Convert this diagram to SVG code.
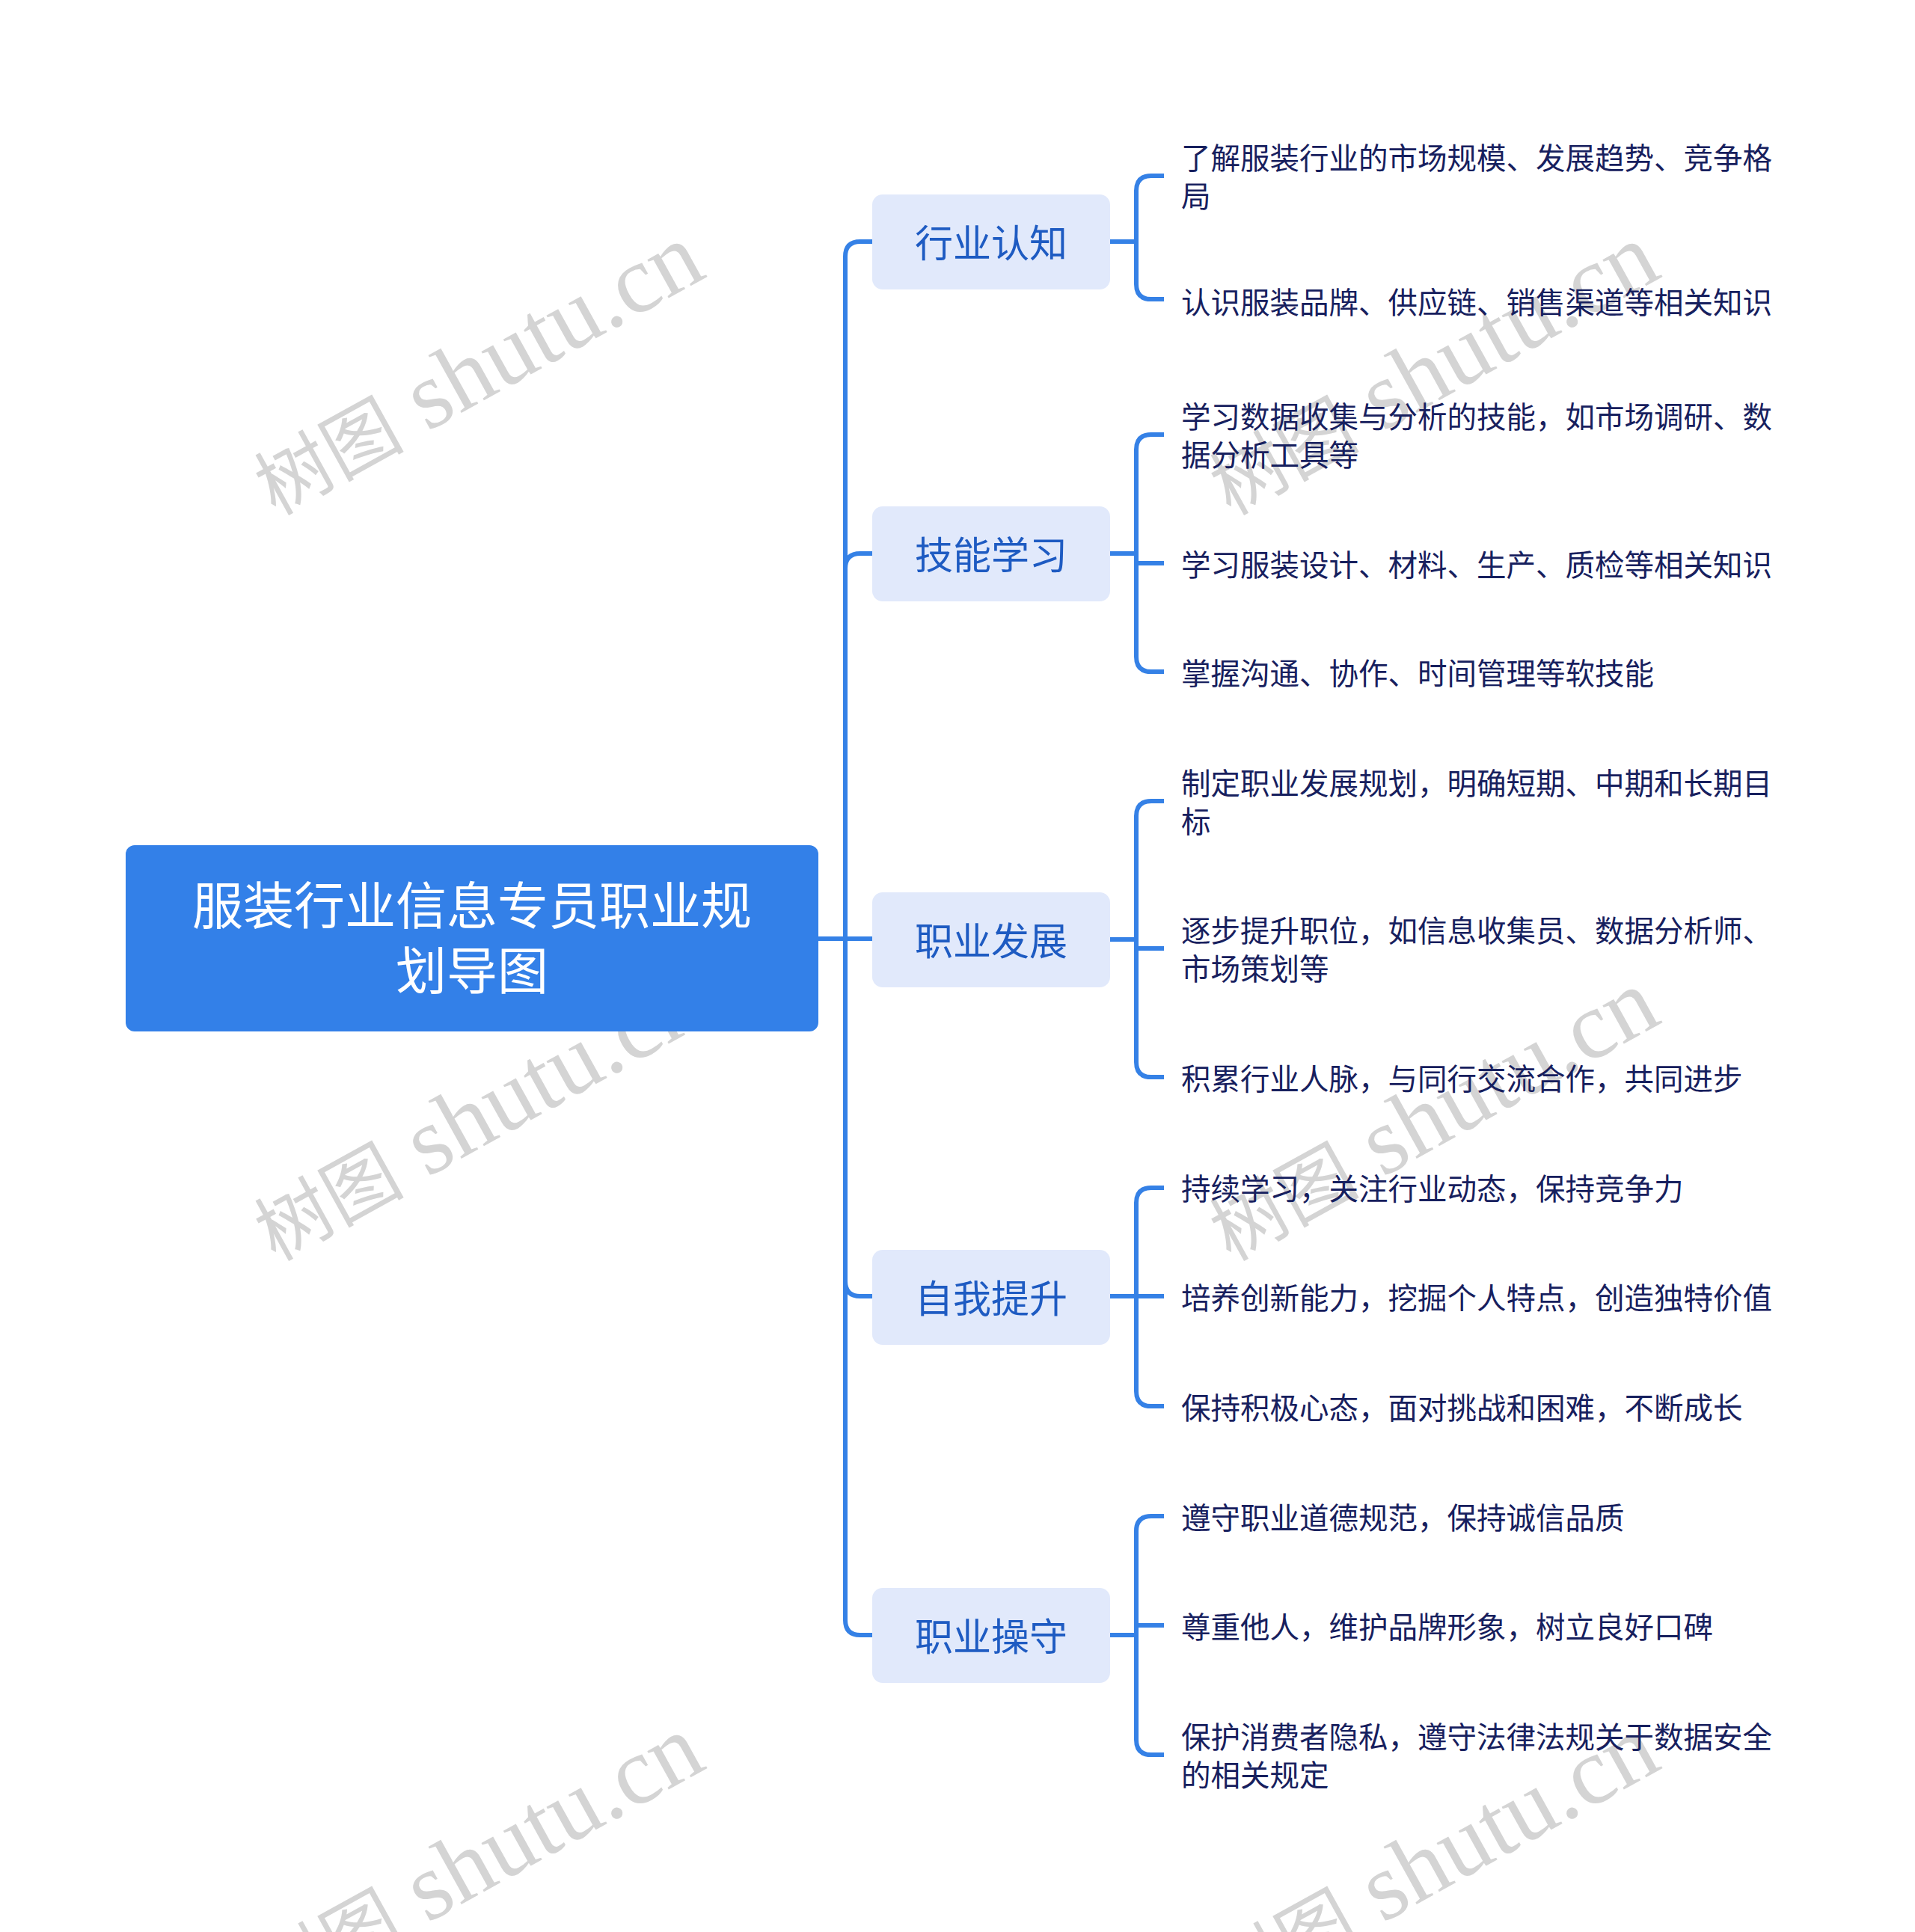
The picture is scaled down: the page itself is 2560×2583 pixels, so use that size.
<svg xmlns="http://www.w3.org/2000/svg" width="2560" height="2583" viewBox="0 0 2560 2583">
<style>
.wm { font-family: "Liberation Serif", "Noto Sans CJK SC", serif; fill: #D4D4D4; }
.conn path { fill: none; stroke: #3581E6; stroke-width: 6; }
.root rect { fill: #3380E8; }
.root text { font-family: "Noto Sans CJK SC", "Noto Sans", sans-serif; font-size: 68px; fill: #FFFFFF; text-anchor: middle; dominant-baseline: central; }
.l1 rect { fill: #E1E9FB; }
.l1 text { font-family: "Noto Sans CJK SC", "Noto Sans", sans-serif; font-size: 51px; fill: #1E5BC2; text-anchor: middle; dominant-baseline: central; }
.leaf text { font-family: "Noto Sans CJK SC", "Noto Sans", sans-serif; font-size: 39.5px; fill: #17205E; dominant-baseline: central; }
</style>
<defs>
<g id="wm">
<text class="wm" transform="rotate(-29)"><tspan font-size="100">树图</tspan><tspan font-size="128"> shutu.cn</tspan></text>
</g>
</defs>
<rect x="0" y="0" width="2560" height="2583" fill="#FFFFFF"/>
<g id="watermarks">
<use href="#wm" x="368" y="690"/>
<use href="#wm" x="368" y="1687"/>
<use href="#wm" x="368" y="2684"/>
<use href="#wm" x="1645" y="690"/>
<use href="#wm" x="1645" y="1687"/>
<use href="#wm" x="1645" y="2684"/>
</g>
<g id="connectors" class="conn">
<path d="M1094,1255 H1130 V343 Q1130,323 1150,323 H1166"/>
<path d="M1130,1255 V760 Q1130,740 1150,740 H1166"/>
<path d="M1094,1255 H1166"/>
<path d="M1130,1255 V1713 Q1130,1733 1150,1733 H1166"/>
<path d="M1130,1255 V2166 Q1130,2186 1150,2186 H1166"/>
<path d="M1484,323 H1519 V255 Q1519,235 1539,235 H1556"/>
<path d="M1519,323 V380 Q1519,400 1539,400 H1556"/>
<path d="M1484,740 H1519 V601 Q1519,581 1539,581 H1556"/>
<path d="M1519,740 V753 H1556"/>
<path d="M1519,740 V878 Q1519,898 1539,898 H1556"/>
<path d="M1484,1256 H1519 V1091 Q1519,1071 1539,1071 H1556"/>
<path d="M1519,1256 V1268 H1556"/>
<path d="M1519,1256 V1420 Q1519,1440 1539,1440 H1556"/>
<path d="M1484,1733 H1556"/>
<path d="M1519,1733 V1608 Q1519,1588 1539,1588 H1556"/>
<path d="M1519,1733 V1860 Q1519,1880 1539,1880 H1556"/>
<path d="M1484,2186 H1519 V2047 Q1519,2027 1539,2027 H1556"/>
<path d="M1519,2186 V2173 H1556"/>
<path d="M1519,2186 V2326 Q1519,2346 1539,2346 H1556"/>
</g>
<g id="root" class="root">
<rect x="168" y="1130" width="926" height="249" rx="12"/>
<text><tspan x="631" y="1206">服装行业信息专员职业规</tspan><tspan x="631" y="1293">划导图</tspan></text>
</g>
<g id="n1" class="l1"><rect x="1166" y="260" width="318" height="127" rx="14"/><text x="1325" y="322">行业认知</text></g>
<g id="n2" class="l1"><rect x="1166" y="677" width="318" height="127" rx="14"/><text x="1325" y="739">技能学习</text></g>
<g id="n3" class="l1"><rect x="1166" y="1193" width="318" height="127" rx="14"/><text x="1325" y="1255">职业发展</text></g>
<g id="n4" class="l1"><rect x="1166" y="1671" width="318" height="127" rx="14"/><text x="1325" y="1733">自我提升</text></g>
<g id="n5" class="l1"><rect x="1166" y="2123" width="318" height="127" rx="14"/><text x="1325" y="2185">职业操守</text></g>
<g id="leaf1-1" class="leaf"><text><tspan x="1579" y="208">了解服装行业的市场规模、发展趋势、竞争格</tspan><tspan x="1579" y="259">局</tspan></text></g>
<g id="leaf1-2" class="leaf"><text x="1579" y="401">认识服装品牌、供应链、销售渠道等相关知识</text></g>
<g id="leaf2-1" class="leaf"><text><tspan x="1579" y="554">学习数据收集与分析的技能，如市场调研、数</tspan><tspan x="1579" y="605">据分析工具等</tspan></text></g>
<g id="leaf2-2" class="leaf"><text x="1579" y="752">学习服装设计、材料、生产、质检等相关知识</text></g>
<g id="leaf2-3" class="leaf"><text x="1579" y="897">掌握沟通、协作、时间管理等软技能</text></g>
<g id="leaf3-1" class="leaf"><text><tspan x="1579" y="1044">制定职业发展规划，明确短期、中期和长期目</tspan><tspan x="1579" y="1095">标</tspan></text></g>
<g id="leaf3-2" class="leaf"><text><tspan x="1579" y="1241">逐步提升职位，如信息收集员、数据分析师、</tspan><tspan x="1579" y="1292">市场策划等</tspan></text></g>
<g id="leaf3-3" class="leaf"><text x="1579" y="1439">积累行业人脉，与同行交流合作，共同进步</text></g>
<g id="leaf4-1" class="leaf"><text x="1579" y="1586">持续学习，关注行业动态，保持竞争力</text></g>
<g id="leaf4-2" class="leaf"><text x="1579" y="1732">培养创新能力，挖掘个人特点，创造独特价值</text></g>
<g id="leaf4-3" class="leaf"><text x="1579" y="1879">保持积极心态，面对挑战和困难，不断成长</text></g>
<g id="leaf5-1" class="leaf"><text x="1579" y="2026">遵守职业道德规范，保持诚信品质</text></g>
<g id="leaf5-2" class="leaf"><text x="1579" y="2172">尊重他人，维护品牌形象，树立良好口碑</text></g>
<g id="leaf5-3" class="leaf"><text><tspan x="1579" y="2319">保护消费者隐私，遵守法律法规关于数据安全</tspan><tspan x="1579" y="2370">的相关规定</tspan></text></g>
</svg>
